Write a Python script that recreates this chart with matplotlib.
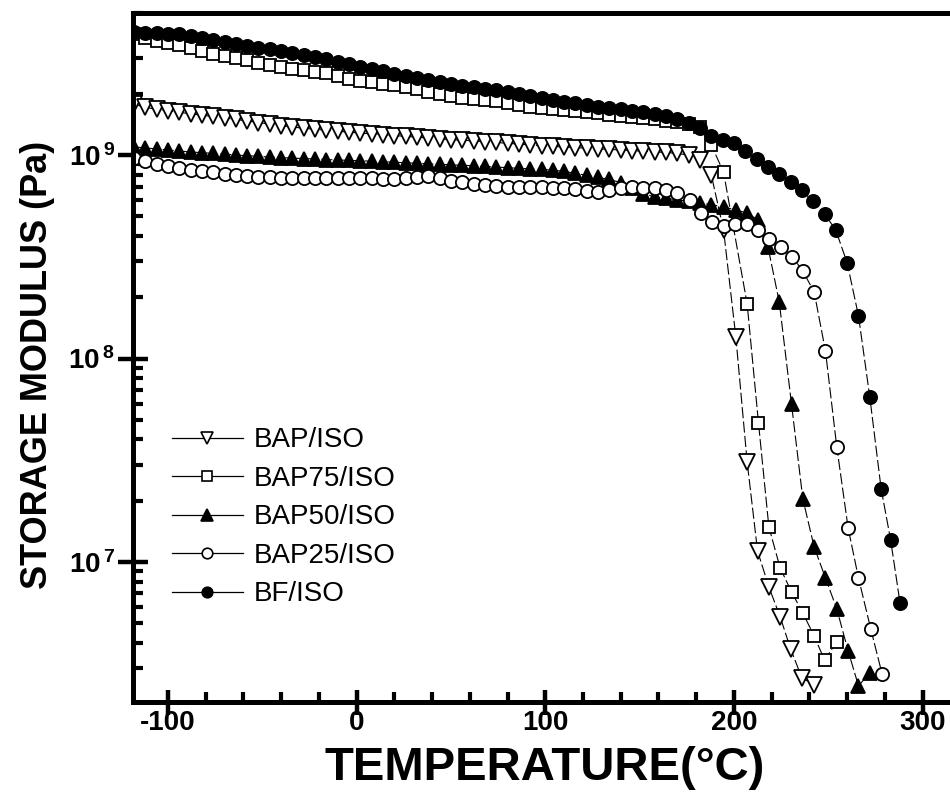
import matplotlib
matplotlib.use("Agg")
import matplotlib.pyplot as plt
from matplotlib.lines import Line2D
from matplotlib.ticker import MultipleLocator, FixedLocator, LogLocator, NullFormatter

plt.rcParams['font.family'] = ['Liberation Sans', 'DejaVu Sans']
plt.rcParams['mathtext.fontset'] = 'custom'
plt.rcParams['mathtext.rm'] = 'Liberation Sans:bold'
plt.rcParams['mathtext.bf'] = 'Liberation Sans:bold'

# temperatures (°C) and log10(E')
temp_bap = [-118, -112, -106, -100, -94, -88, -82, -76, -70, -64, -58, -52, -46, -40, -34, -28,
            -22, -16, -10, -4, 2, 8, 14, 20, 26, 32, 38, 44, 50, 56, 62, 68, 74, 80, 86, 92,
            98, 104, 110, 116, 122, 128, 134, 140, 146, 152, 158, 164, 170, 176, 182, 188,
            194.5, 201, 207, 212.5, 218.5, 224.5, 230, 236, 242.5]
loge_bap = [9.25, 9.235, 9.225, 9.218, 9.21, 9.203, 9.196, 9.19, 9.183, 9.175, 9.168, 9.16,
            9.152, 9.145, 9.138, 9.132, 9.127, 9.122, 9.117, 9.113, 9.108, 9.104, 9.10, 9.096,
            9.092, 9.088, 9.084, 9.08, 9.076, 9.073, 9.07, 9.066, 9.062, 9.058, 9.054, 9.05,
            9.046, 9.043, 9.04, 9.037, 9.034, 9.031, 9.028, 9.025, 9.022, 9.019, 9.016, 9.013,
            9.008, 9.0, 8.978, 8.902, 8.631, 8.106, 7.491, 7.054, 6.877, 6.730, 6.573, 6.430,
            6.396]

temp_bap75 = [-118, -112, -106, -100, -94, -88, -82, -76, -70, -64, -58, -52, -46, -40, -34, -28,
              -22, -16, -10, -4, 2, 8, 14, 20, 26, 32, 38, 44, 50, 56, 62, 68, 74, 80, 86, 92,
              98, 104, 110, 116, 122, 128, 134, 140, 146, 152, 158, 164, 170, 176, 182, 188,
              194.5, 207, 213, 218.5, 224.5, 230.5, 236.5, 242.5, 248, 254.5]
loge_bap75 = [9.595, 9.575, 9.562, 9.55, 9.54, 9.527, 9.513, 9.499, 9.487, 9.475, 9.465, 9.455,
              9.443, 9.432, 9.424, 9.417, 9.41, 9.402, 9.39, 9.376, 9.366, 9.358, 9.35, 9.343,
              9.334, 9.325, 9.312, 9.298, 9.29, 9.282, 9.277, 9.272, 9.265, 9.255, 9.246, 9.238,
              9.232, 9.228, 9.223, 9.218, 9.21, 9.205, 9.198, 9.192, 9.186, 9.18, 9.175, 9.168,
              9.162, 9.152, 9.14, 9.05, 8.915, 8.268, 7.683, 7.172, 6.970, 6.853, 6.749, 6.636,
              6.518, 6.607]

temp_bap50 = [-118, -112, -106, -100, -94, -88, -82, -76, -70, -64, -58, -52, -46, -40, -34, -28,
              -22, -16, -10, -4, 2, 8, 14, 20, 26, 32, 38, 44, 50, 56, 62, 68, 74, 80, 86, 92,
              98, 104, 110, 116, 122, 128, 134, 140, 146, 152, 158, 164, 170, 176, 182, 188,
              194.5, 201, 207, 213, 218, 224, 230.5, 236.5, 242.5, 248.5, 254.5, 260.5, 266, 272]
loge_bap50 = [9.04, 9.035, 9.03, 9.025, 9.02, 9.015, 9.012, 9.008, 9.005, 9.0, 8.997, 8.994,
              8.99, 8.988, 8.985, 8.983, 8.981, 8.978, 8.976, 8.974, 8.972, 8.97, 8.967, 8.965,
              8.962, 8.96, 8.957, 8.955, 8.952, 8.95, 8.947, 8.944, 8.941, 8.938, 8.935, 8.932,
              8.93, 8.926, 8.92, 8.91, 8.9, 8.89, 8.88, 8.865, 8.84, 8.81, 8.795, 8.788,
              8.78, 8.772, 8.765, 8.756, 8.745, 8.73, 8.715, 8.68, 8.55, 8.278, 7.776, 7.310,
              7.074, 6.921, 6.769, 6.563, 6.391, 6.455]

temp_bap25 = [-118, -112, -106, -100, -94, -88, -82, -76, -70, -64, -58, -52, -46, -40, -34, -28,
              -22, -16, -10, -4, 2, 8, 14, 20, 26, 32, 38, 44, 50, 56, 62, 68, 74, 80, 86, 92,
              98, 104, 110, 116, 122, 128, 134, 140, 146, 152, 158, 164, 170, 176.5, 182.5, 188.5,
              194.5, 200.5, 207, 212.5, 218.5, 225, 231, 236.5, 242.5, 248.5, 254.5, 260.5, 266,
              272.5, 278.5]
loge_bap25 = [8.985, 8.97, 8.955, 8.945, 8.935, 8.928, 8.922, 8.915, 8.908, 8.902, 8.897, 8.893,
              8.89, 8.889, 8.888, 8.887, 8.887, 8.887, 8.888, 8.889, 8.888, 8.886, 8.884, 8.882,
              8.885, 8.893, 8.898, 8.888, 8.875, 8.866, 8.86, 8.852, 8.846, 8.843, 8.843, 8.842,
              8.842, 8.84, 8.838, 8.832, 8.822, 8.818, 8.826, 8.838, 8.843, 8.84, 8.838, 8.83,
              8.815, 8.78, 8.715, 8.671, 8.651, 8.661, 8.661, 8.631, 8.587, 8.548, 8.499, 8.43,
              8.327, 8.037, 7.565, 7.167, 6.921, 6.671, 6.45]

temp_bf = [-118, -112, -106, -100, -94, -88, -82, -76, -70, -64, -58, -52, -46, -40, -34, -28,
           -22, -16, -10, -4, 2, 8, 14, 20, 26, 32, 38, 44, 50, 56, 62, 68, 74, 80, 86, 92,
           98, 104, 110, 116, 122, 128, 134, 140, 146, 152, 158, 164, 170, 176, 182, 188,
           194, 200, 206, 212, 218, 224, 230, 236, 242, 248, 254, 260, 266, 272, 278, 283, 288]
loge_bf = [9.605, 9.600, 9.598, 9.595, 9.593, 9.585, 9.575, 9.565, 9.555, 9.545, 9.537, 9.528,
           9.52, 9.51, 9.502, 9.492, 9.48, 9.47, 9.458, 9.446, 9.435, 9.425, 9.414, 9.40,
           9.39, 9.38, 9.37, 9.36, 9.35, 9.342, 9.335, 9.327, 9.32, 9.31, 9.30, 9.29,
           9.28, 9.27, 9.262, 9.255, 9.247, 9.238, 9.232, 9.225, 9.218, 9.21, 9.2, 9.19,
           9.175, 9.158, 9.135, 9.095, 9.075, 9.058, 9.02, 8.98, 8.94, 8.905, 8.868, 8.826,
           8.772, 8.712, 8.63, 8.47, 8.21, 7.81, 7.36, 7.11, 6.80]

labels = ['BAP/ISO', 'BAP75/ISO', 'BAP50/ISO', 'BAP25/ISO', 'BF/ISO']

series = [
    (temp_bap, loge_bap, 'v', 11, 'white'),
    (temp_bap75, loge_bap75, 's', 8.5, 'white'),
    (temp_bap50, loge_bap50, '^', 10.5, 'black'),
    (temp_bap25, loge_bap25, 'o', 9.5, 'white'),
    (temp_bf, loge_bf, 'o', 9.5, 'black'),
]

fig = plt.figure(figsize=(9.5, 8.05), dpi=100)
ax = fig.add_axes([0.14, 0.128, 0.86, 0.856])

for t, le, mk, ms, fc in series:
    vals = [10 ** v for v in le]
    ax.plot(t, vals, color='black', lw=0.8, ls=(0, (10, 3)),
            marker=mk, ms=ms, mfc=fc, mec='black', mew=1.3)

ax.set_yscale('log')
ax.set_xlim(-118.5, 314.5)
ax.set_ylim(2.05e6, 5.0e9)

for s in ['left', 'bottom', 'top']:
    ax.spines[s].set_linewidth(3.6)
ax.spines['right'].set_visible(False)

ax.xaxis.set_major_locator(FixedLocator([-100, 0, 100, 200, 300]))
ax.xaxis.set_minor_locator(MultipleLocator(20))
ax.yaxis.set_major_locator(FixedLocator([1e7, 1e8, 1e9]))
ax.yaxis.set_minor_locator(LogLocator(base=10, subs=[2, 3, 4, 5, 6, 7, 8, 9]))
ax.yaxis.set_minor_formatter(NullFormatter())
ax.set_yticklabels([r'$\mathbf{10^{\,7}}$', r'$\mathbf{10^{\,8}}$', r'$\mathbf{10^{\,9}}$'])
ax.set_xticklabels(['-100', '0', '100', '200', '300'])

ax.tick_params(axis='both', which='major', direction='inout', width=3.2,
               top=False, right=False)
ax.tick_params(axis='x', which='major', length=18, pad=-3, labelsize=20)
ax.tick_params(axis='y', which='major', length=22, pad=2, labelsize=20)
ax.tick_params(axis='both', which='minor', direction='in', length=7, width=3,
               top=False, right=False)
for lab in ax.get_xticklabels():
    lab.set_fontweight('bold')

ax.set_xlabel('TEMPERATURE(°C)', fontsize=34, fontweight='bold')
ax.xaxis.set_label_coords(0.504, -0.064)
ax.set_ylabel('STORAGE MODULUS (Pa)', fontsize=26, fontweight='bold')
ax.yaxis.set_label_coords(-0.095, 0.489)

handles = [Line2D([], [], color='black', lw=0.9, marker=mk, ms=ms * 0.8, mfc=fc,
                  mec='black', mew=1.2) for _, _, mk, ms, fc in series]
leg = ax.legend(handles, labels, loc='upper left', bbox_to_anchor=(0.181, 0.469),
                bbox_transform=fig.transFigure, frameon=False, borderpad=0,
                borderaxespad=0, handlelength=2.55, handletextpad=0.4,
                labelspacing=0.45, prop={'family': ['Liberation Sans', 'DejaVu Sans'], 'size': 20})

fig.savefig('out.png', dpi=100)
